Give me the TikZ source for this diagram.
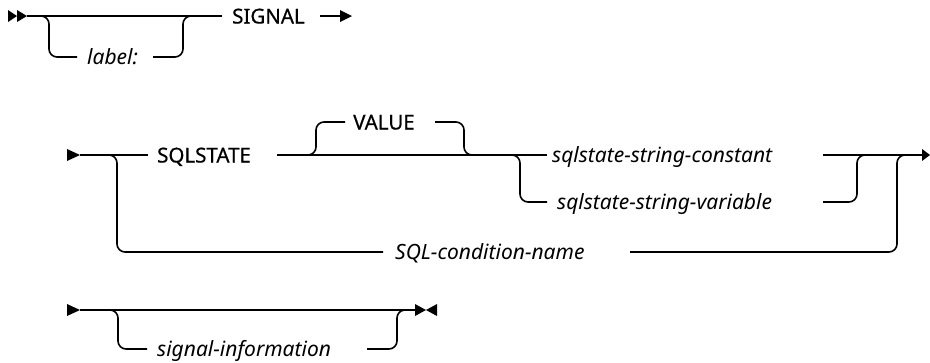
\documentclass[tikz,border=0pt]{standalone}
\usepackage{fontspec}
\setmainfont{Noto Sans}
\newfontfamily\kwfont[FakeBold=0.6]{Noto Sans}
\begin{document}
\begin{tikzpicture}[x=1pt,y=-1pt,
  rail/.style={line width=1.6pt,rounded corners=8pt},
  kw/.style={inner sep=0pt,anchor=base west,font=\fontsize{20.5}{24}\kwfont},
  var/.style={inner sep=0pt,anchor=base west,font=\fontsize{21}{25}\selectfont\itshape},
  tip/.style={fill=black,draw=none}]
\useasboundingbox (0,0) rectangle (930,362);
% ---------- row 1 ----------
\fill[tip] (8,10) -- (17,16) -- (8,22) -- cycle;
\fill[tip] (17,10) -- (27,16) -- (17,22) -- cycle;
\coordinate (r1s) at (27,16);
\coordinate (r1e) at (222,16);
\node[kw] (signal) at (232,23.5) {SIGNAL};
\node[var] (label) at (87,64) {label:};
\coordinate (lblL) at (77,57);
\coordinate (lblR) at (153,57);
\draw[rail] (r1s) -- (r1e);
\draw[rail] (35,16) -- (49,16) -- (49,57) -- (lblL);
\draw[rail] (lblR) -- (183,57) -- (183,16) -- (195,16);
\coordinate (a1s) at (320,16);
\coordinate (a1e) at (341,16);
\draw[line width=1.6pt] (a1s) -- (a1e);
\fill[tip] (340,10) -- (352,16) -- (340,22) -- cycle;
% ---------- row 2 ----------
\fill[tip] (67,149) -- (80,155) -- (67,161) -- cycle;
\node[kw] (sqlstate) at (157,162.5) {SQLSTATE};
\node[kw] (value) at (353,129.5) {VALUE};
\node[var] (const) at (552,162) {sqlstate-string-constant};
\node[var] (svar) at (557,209) {sqlstate-string-variable};
\node[var] (cond) at (395,259) {SQL-condition-name};
\coordinate (sqlL) at (148,155);
\coordinate (sqlR) at (277,155);
\coordinate (valL) at (345,122);
\coordinate (valR) at (435,122);
\coordinate (conL) at (547,155);
\coordinate (conR) at (823,155);
\coordinate (varL) at (547,202);
\coordinate (varR) at (823,202);
\coordinate (cndL) at (383,252);
\coordinate (cndR) at (630,252);
\coordinate (r2e) at (923,155);
\draw[rail] (80,155) -- (sqlL);
\draw[rail] (105,155) -- (117,155) -- (117,252) -- (cndL);
\draw[rail] (cndR) -- (897,252) -- (897,155) -- (909,155);
\draw[rail] (sqlR) -- (conL);
\draw[rail] (304,155) -- (316,155) -- (316,122) -- (valL);
\draw[rail] (valR) -- (464,122) -- (464,155) -- (476,155);
\draw[rail] (508,155) -- (520,155) -- (520,202) -- (varL);
\draw[rail] (varR) -- (857,202) -- (857,155) -- (869,155);
\draw[rail] (conR) -- (r2e);
\fill[tip] (922,149) -- (930,155) -- (922,161) -- cycle;
% ---------- row 3 ----------
\fill[tip] (67,304) -- (80,310) -- (67,316) -- cycle;
\node[var] (siginfo) at (157,356) {signal-information};
\coordinate (sigL) at (147,349);
\coordinate (sigR) at (367,349);
\coordinate (r3e) at (416,310);
\draw[rail] (80,310) -- (r3e);
\draw[rail] (105,310) -- (118,310) -- (118,349) -- (sigL);
\draw[rail] (sigR) -- (397,349) -- (397,310) -- (409,310);
\fill[tip] (415,304) -- (426,310) -- (415,316) -- cycle;
\fill[tip] (437,304) -- (426,310) -- (437,316) -- cycle;
\end{tikzpicture}
\end{document}
